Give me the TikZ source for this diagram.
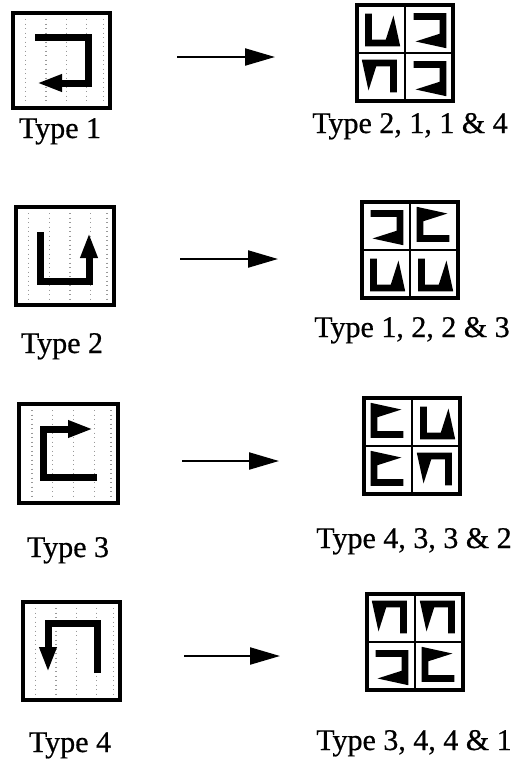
\documentclass[tikz,border=0pt]{standalone}
\usepackage{fontspec}
\setmainfont{Liberation Serif}
\newfontfamily\labfont{Liberation Serif}[FakeBold=0.6]
\usetikzlibrary{arrows.meta}
\newcommand{\stipbox}[4]{%
  \foreach \f in {0.13,0.34,0.55,0.76,0.93}{%
    \draw[stipple] ({#1+\f*#3},{#2+6}) -- ({#1+\f*#3},{#2+#4-6});}}
\newcommand{\mOne}[2]{\fill[shift={(#1,#2)},x=48pt,y=-48pt] (0.18,0.17) -- (0.86,0.17) -- (0.86,0.9) -- (0.22,0.76) -- (0.72,0.6) -- (0.72,0.31) -- (0.18,0.31) -- cycle;}
\newcommand{\mTwo}[2]{\fill[shift={(#1,#2)},x=48pt,y=-48pt] (0.17,0.18) -- (0.17,0.86) -- (0.9,0.86) -- (0.76,0.22) -- (0.6,0.72) -- (0.31,0.72) -- (0.31,0.18) -- cycle;}
\newcommand{\mThree}[2]{\fill[shift={(#1,#2)},x=48pt,y=-48pt] (0.82,0.83) -- (0.14,0.83) -- (0.14,0.1) -- (0.78,0.24) -- (0.28,0.4) -- (0.28,0.69) -- (0.82,0.69) -- cycle;}
\newcommand{\mFour}[2]{\fill[shift={(#1,#2)},x=48pt,y=-48pt] (0.83,0.82) -- (0.83,0.14) -- (0.1,0.14) -- (0.24,0.78) -- (0.4,0.28) -- (0.69,0.28) -- (0.69,0.82) -- cycle;}
\begin{document}
\begin{tikzpicture}[x=1pt,y=-1pt,
  bigbox/.style={draw=black,line width=3.5pt,inner sep=0pt},
  gridbox/.style={draw=black,line width=3.5pt,fill=white,inner sep=0pt,minimum width=96pt,minimum height=96pt},
  gridline/.style={line width=2.6pt},
  stipple/.style={gray!80,line width=1.3pt,dash pattern=on 1.3pt off 3.2pt},
  route/.style={line width=7pt,-{Triangle[length=25pt,width=16pt]}},
  conn/.style={line width=2.2pt,-{Triangle[length=30pt,width=17pt]}},
  lab/.style={anchor=base,inner sep=0pt,font=\labfont\fontsize{30}{35}\selectfont}]
\useasboundingbox[fill=white] (0,0) rectangle (513,764);

% ---- row 1
\stipbox{13}{13}{97}{95}
\node[bigbox,minimum width=97pt,minimum height=95pt] (b1) at (61.5,60.5) {};
\coordinate (p1a) at (35,37); \coordinate (p1b) at (88,37); \coordinate (p1c) at (88,83); \coordinate (p1d) at (37,83);
\draw[route] (p1a) -- (p1b) -- (p1c) -- (p1d);
\node[gridbox] (g1) at (405,53) {};
\draw[gridline] (g1.north) -- (g1.south);
\draw[gridline] (g1.west) -- (g1.east);
\mTwo{357}{5} \mOne{405}{5} \mFour{357}{53} \mOne{405}{53}
\coordinate (a1s) at (177,57); \coordinate (a1e) at (275,57);
\draw[conn] (a1s) -- (a1e);
\node[lab] (l1) at (60,138) {Type 1};
\node[lab] (r1) at (410,133) {Type 2, 1, 1 \& 4};

% ---- row 2
\stipbox{16}{207}{98}{98}
\node[bigbox,minimum width=98pt,minimum height=98pt] (b2) at (65,256) {};
\coordinate (p2a) at (40,232); \coordinate (p2b) at (40,281); \coordinate (p2c) at (89,281); \coordinate (p2d) at (89,233);
\draw[route] (p2a) -- (p2b) -- (p2c) -- (p2d);
\node[gridbox] (g2) at (410,250) {};
\draw[gridline] (g2.north) -- (g2.south);
\draw[gridline] (g2.west) -- (g2.east);
\mOne{362}{202} \mThree{410}{202} \mTwo{362}{250} \mTwo{410}{250}
\coordinate (a2s) at (180,259); \coordinate (a2e) at (278,259);
\draw[conn] (a2s) -- (a2e);
\node[lab] (l2) at (62,353) {Type 2};
\node[lab] (r2) at (412,337) {Type 1, 2, 2 \& 3};

% ---- row 3
\stipbox{19}{404}{99}{99}
\node[bigbox,minimum width=99pt,minimum height=99pt] (b3) at (68.5,453.5) {};
\coordinate (p3a) at (97,477); \coordinate (p3b) at (43,477); \coordinate (p3c) at (43,429); \coordinate (p3d) at (93,429);
\draw[route] (p3a) -- (p3b) -- (p3c) -- (p3d);
\node[gridbox] (g3) at (412,446) {};
\draw[gridline] (g3.north) -- (g3.south);
\draw[gridline] (g3.west) -- (g3.east);
\mThree{364}{398} \mTwo{412}{398} \mThree{364}{446} \mFour{412}{446}
\coordinate (a3s) at (182,461); \coordinate (a3e) at (279,461);
\draw[conn] (a3s) -- (a3e);
\node[lab] (l3) at (68,557) {Type 3};
\node[lab] (r3) at (414,548) {Type 4, 3, 3 \& 2};

% ---- row 4
\stipbox{23}{602}{97}{98}
\node[bigbox,minimum width=97pt,minimum height=98pt] (b4) at (71.5,651) {};
\coordinate (p4a) at (97,673); \coordinate (p4b) at (97,623); \coordinate (p4c) at (48,623); \coordinate (p4d) at (48,672);
\draw[route] (p4a) -- (p4b) -- (p4c) -- (p4d);
\node[gridbox] (g4) at (415,642) {};
\draw[gridline] (g4.north) -- (g4.south);
\draw[gridline] (g4.west) -- (g4.east);
\mFour{367}{594} \mFour{415}{594} \mOne{367}{642} \mThree{415}{642}
\coordinate (a4s) at (184,656); \coordinate (a4e) at (280,656);
\draw[conn] (a4s) -- (a4e);
\node[lab] (l4) at (70,752) {Type 4};
\node[lab] (r4) at (414,750) {Type 3, 4, 4 \& 1};
\end{tikzpicture}
\end{document}
